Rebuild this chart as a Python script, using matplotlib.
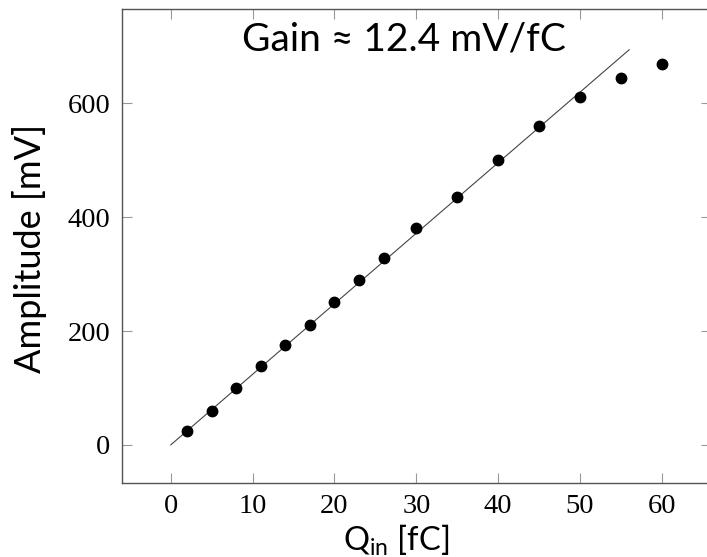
import matplotlib
matplotlib.use("Agg")
import matplotlib.pyplot as plt
import numpy as np

# Measured amplitude vs injected charge
q_in = [2, 5, 8, 11, 14, 17, 20, 23, 26, 30, 35, 40, 45, 50, 55, 60]
amplitude = [25, 60, 100, 138, 176, 211, 251, 289, 328, 381, 436, 500, 560, 612, 644, 670]

# Linear fit line
gain = 12.4
fit_x = [0, 56]

x_ticks = [0, 10, 20, 30, 40, 50, 60]
y_ticks = [0, 200, 400, 600]

plt.rcParams['mathtext.fontset'] = 'custom'
plt.rcParams['mathtext.rm'] = 'Lato'

fig = plt.figure(figsize=(7.07, 5.57), dpi=100)
ax = fig.add_axes([0.1721, 0.1329, 0.8336, 0.8509])

ax.plot(fit_x, [gain * x for x in fit_x], color="#444444", lw=0.8, zorder=2)
ax.plot(q_in, amplitude, "o", color="black", ms=7.5, zorder=3)

ax.set_xlim(-6, 66)
ax.set_ylim(-67, 766)
ax.set_xticks(x_ticks)
ax.set_yticks(y_ticks)
ax.tick_params(direction="in", length=7, width=0.8, color="#999999",
               top=True, right=True, labelsize=20.5, pad=8)
for lbl in ax.get_xticklabels() + ax.get_yticklabels():
    lbl.set_family("Liberation Serif")
for sp in ax.spines.values():
    sp.set_color("#555555")
    sp.set_linewidth(1.0)

ax.set_xlabel(r"$\mathregular{Q_{in}}$ [fC]", fontsize=23.5, family="Lato")
ax.xaxis.set_label_coords(0.465, -0.085)
ax.set_ylabel("Amplitude [mV]", fontsize=26, family="Lato")
ax.yaxis.set_label_coords(-0.126, 0.495)

ax.text(0.205, 0.935, "Gain ≈ 12.4 mV/fC", transform=ax.transAxes,
        fontsize=28, family=["Lato", "DejaVu Sans"], va="center", ha="left")

plt.savefig("out.png", dpi=100)
